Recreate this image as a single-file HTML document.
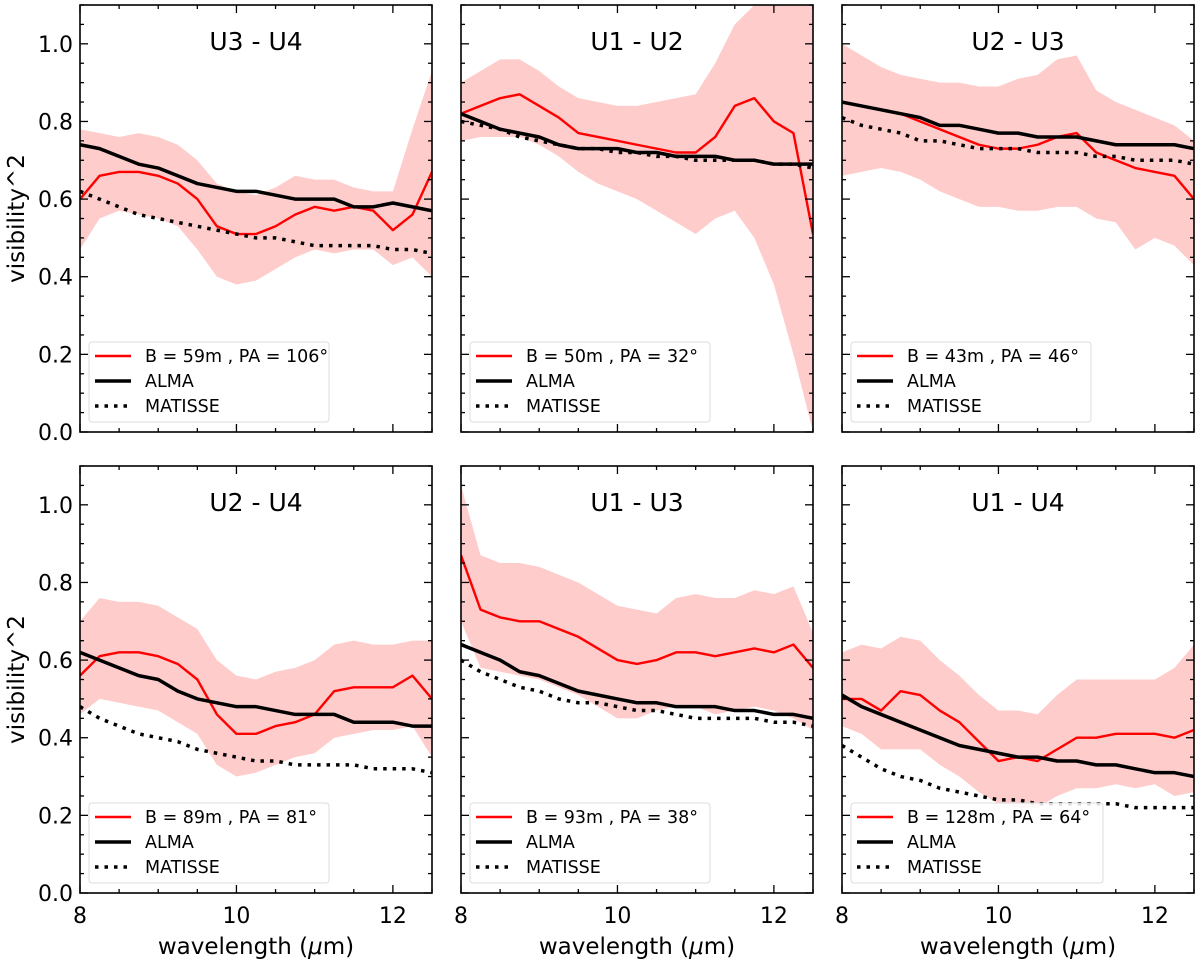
<!DOCTYPE html>
<html><head><meta charset="utf-8"><style>
body{margin:0;background:#fff}
svg{display:block;font-family:"DejaVu Sans","Liberation Sans",sans-serif}
</style></head><body>
<svg id="fig" width="1200" height="960"></svg>
<script>
const xs=[8,8.25,8.5,8.75,9,9.25,9.5,9.75,10,10.25,10.5,10.75,11,11.25,11.5,11.75,12,12.25,12.5];
const titles=["U3 - U4","U1 - U2","U2 - U3","U2 - U4","U1 - U3","U1 - U4"];
const legendLabels=["B = 59m , PA = 106°","B = 50m , PA = 32°","B = 43m , PA = 46°","B = 89m , PA = 81°","B = 93m , PA = 38°","B = 128m , PA = 64°"];
const yTicks=[0,0.2,0.4,0.6,0.8,1.0];
const xTicks=[8,10,12];
const red1=[0.60,0.66,0.67,0.67,0.66,0.64,0.60,0.53,0.51,0.51,0.53,0.56,0.58,0.57,0.58,0.57,0.52,0.56,0.67];
const up1=[0.78,0.77,0.76,0.77,0.76,0.74,0.70,0.64,0.62,0.61,0.63,0.66,0.65,0.65,0.63,0.62,0.62,0.78,0.93];
const lo1=[0.47,0.55,0.57,0.56,0.55,0.53,0.47,0.40,0.38,0.39,0.42,0.45,0.47,0.46,0.47,0.47,0.43,0.45,0.40];
const alma1=[0.74,0.73,0.71,0.69,0.68,0.66,0.64,0.63,0.62,0.62,0.61,0.60,0.60,0.60,0.58,0.58,0.59,0.58,0.57];
const mat1=[0.62,0.60,0.58,0.56,0.55,0.54,0.53,0.52,0.51,0.50,0.50,0.49,0.48,0.48,0.48,0.48,0.47,0.47,0.46];
const red2=[0.82,0.84,0.86,0.87,0.84,0.81,0.77,0.76,0.75,0.74,0.73,0.72,0.72,0.76,0.84,0.86,0.80,0.77,0.51];
const up2=[0.90,0.93,0.96,0.96,0.93,0.89,0.86,0.85,0.84,0.84,0.85,0.86,0.87,0.95,1.05,1.1,1.1,1.1,1.1];
const lo2=[0.75,0.76,0.76,0.76,0.74,0.71,0.67,0.64,0.62,0.60,0.57,0.54,0.51,0.55,0.57,0.50,0.38,0.20,0.0];
const alma2=[0.82,0.80,0.78,0.77,0.76,0.74,0.73,0.73,0.73,0.72,0.72,0.71,0.71,0.71,0.70,0.70,0.69,0.69,0.69];
const mat2=[0.80,0.79,0.78,0.76,0.75,0.74,0.73,0.73,0.72,0.72,0.71,0.71,0.70,0.70,0.70,0.70,0.69,0.69,0.68];
const red3=[0.85,0.84,0.83,0.82,0.80,0.78,0.76,0.74,0.73,0.73,0.74,0.76,0.77,0.72,0.70,0.68,0.67,0.66,0.60];
const up3=[1.0,0.97,0.94,0.92,0.91,0.90,0.90,0.89,0.89,0.91,0.92,0.96,0.97,0.88,0.85,0.83,0.81,0.79,0.75];
const lo3=[0.66,0.67,0.68,0.67,0.65,0.62,0.60,0.58,0.58,0.57,0.57,0.58,0.58,0.55,0.54,0.47,0.50,0.48,0.43];
const alma3=[0.85,0.84,0.83,0.82,0.81,0.79,0.79,0.78,0.77,0.77,0.76,0.76,0.76,0.75,0.74,0.74,0.74,0.74,0.73];
const mat3=[0.81,0.79,0.78,0.77,0.75,0.75,0.74,0.73,0.73,0.73,0.72,0.72,0.72,0.71,0.71,0.70,0.70,0.70,0.69];
const red4=[0.56,0.61,0.62,0.62,0.61,0.59,0.55,0.46,0.41,0.41,0.43,0.44,0.46,0.52,0.53,0.53,0.53,0.56,0.50];
const up4=[0.70,0.76,0.75,0.75,0.74,0.71,0.68,0.60,0.56,0.55,0.57,0.58,0.60,0.64,0.65,0.64,0.64,0.65,0.65];
const lo4=[0.46,0.50,0.49,0.48,0.47,0.44,0.41,0.33,0.30,0.31,0.33,0.35,0.36,0.40,0.41,0.42,0.42,0.43,0.35];
const alma4=[0.62,0.60,0.58,0.56,0.55,0.52,0.50,0.49,0.48,0.48,0.47,0.46,0.46,0.46,0.44,0.44,0.44,0.43,0.43];
const mat4=[0.48,0.45,0.43,0.41,0.40,0.39,0.37,0.36,0.35,0.34,0.34,0.33,0.33,0.33,0.33,0.32,0.32,0.32,0.31];
const red5=[0.87,0.73,0.71,0.70,0.70,0.68,0.66,0.63,0.60,0.59,0.60,0.62,0.62,0.61,0.62,0.63,0.62,0.64,0.58];
const up5=[1.05,0.87,0.85,0.85,0.84,0.82,0.80,0.77,0.74,0.73,0.72,0.76,0.77,0.76,0.76,0.78,0.77,0.79,0.67];
const lo5=[0.70,0.58,0.57,0.56,0.55,0.53,0.51,0.48,0.45,0.45,0.47,0.48,0.48,0.46,0.47,0.48,0.47,0.45,0.42];
const alma5=[0.64,0.62,0.60,0.57,0.56,0.54,0.52,0.51,0.50,0.49,0.49,0.48,0.48,0.48,0.47,0.47,0.46,0.46,0.45];
const mat5=[0.60,0.57,0.55,0.53,0.52,0.50,0.49,0.49,0.48,0.47,0.47,0.46,0.45,0.45,0.45,0.45,0.44,0.44,0.43];
const red6=[0.50,0.50,0.47,0.52,0.51,0.47,0.44,0.39,0.34,0.35,0.34,0.37,0.40,0.40,0.41,0.41,0.41,0.40,0.42];
const up6=[0.62,0.64,0.63,0.66,0.65,0.60,0.56,0.51,0.47,0.47,0.46,0.51,0.55,0.55,0.55,0.55,0.55,0.58,0.64];
const lo6=[0.43,0.41,0.37,0.37,0.37,0.33,0.30,0.26,0.23,0.22,0.22,0.25,0.27,0.27,0.28,0.27,0.28,0.25,0.26];
const alma6=[0.51,0.48,0.46,0.44,0.42,0.40,0.38,0.37,0.36,0.35,0.35,0.34,0.34,0.33,0.33,0.32,0.31,0.31,0.30];
const mat6=[0.38,0.35,0.32,0.30,0.29,0.27,0.26,0.25,0.24,0.24,0.23,0.23,0.23,0.23,0.23,0.22,0.22,0.22,0.22];
const reds=[red1,red2,red3,red4,red5,red6],ups=[up1,up2,up3,up4,up5,up6],los=[lo1,lo2,lo3,lo4,lo5,lo6],almas=[alma1,alma2,alma3,alma4,alma5,alma6],mats=[mat1,mat2,mat3,mat4,mat5,mat6];

const NS="http://www.w3.org/2000/svg",svg=document.getElementById('fig');
function mk(t,a,p){const e=document.createElementNS(NS,t);for(const k in a)e.setAttribute(k,a[k]);(p||svg).appendChild(e);return e;}
const lefts=[80,461,842],tops=[5,466],W=352,H=427;
for(let i=0;i<6;i++){
  const L=lefts[i%3],T=tops[Math.floor(i/3)],B=T+H,R=L+W;
  const X=v=>L+(v-8)/4.5*W, Y=v=>B-Math.max(0,Math.min(1.1,v))/1.1*H;
  const g=mk('g',{});
  
  
  const cid='c'+i;const cp=mk('clipPath',{id:cid},g);mk('rect',{x:L,y:T,width:W,height:H},cp);
  const pg=mk('g',{'clip-path':'url(#'+cid+')'},g);
  let d='M'+xs.map((x,k)=>X(x)+','+Y(ups[i][k])).join('L');
  for(let k=xs.length-1;k>=0;k--)d+='L'+X(xs[k])+','+Y(los[i][k]);
  const band=mk('path',{d:d+'Z',fill:'#ffcccc'},pg);
  
  
  const line=(arr,st)=>mk('polyline',Object.assign({points:xs.map((x,k)=>X(x)+','+Y(arr[k])).join(' '),fill:'none','stroke-linejoin':'round'},st),pg);
  const r=line(reds[i],{stroke:'#ff0000','stroke-width':2.4});
  
  
  const m=line(mats[i],{stroke:'#000','stroke-width':3.5,'stroke-dasharray':'3.5,6'});
  
  
  const a=line(almas[i],{stroke:'#000','stroke-width':3.5});
  
  
  for(let v=0;v<=1.1001;v+=0.05){const y=Y(v),len=(Math.abs(v*5-Math.round(v*5))<1e-6)?8:4;
    mk('line',{x1:L,x2:L+len,y1:y,y2:y,stroke:'#000','stroke-width':1.3},g);mk('line',{x1:R,x2:R-len,y1:y,y2:y,stroke:'#000','stroke-width':1.3},g);}
  for(let v=8;v<=12.5001;v+=0.5){const x=X(v),len=(Math.abs(v-Math.round(v/2)*2)<1e-6)?8:4;
    mk('line',{x1:x,x2:x,y1:B,y2:B-len,stroke:'#000','stroke-width':1.3},g);mk('line',{x1:x,x2:x,y1:T,y2:T+len,stroke:'#000','stroke-width':1.3},g);}
  mk('rect',{x:L,y:T,width:W,height:H,fill:'none',stroke:'#000','stroke-width':1.6},g);
  if(i%3==0){yTicks.forEach(v=>{const t=mk('text',{x:L-7,y:Y(v)+8,'text-anchor':'end','font-size':22},g);t.textContent=v.toFixed(1);
    });
    const yl=mk('text',{x:0,y:0,transform:'translate('+24+','+(T+H/2)+') rotate(-90)','text-anchor':'middle','font-size':23},g);yl.textContent='visibility^2';
    }
  if(i>=3){xTicks.forEach(v=>{const t=mk('text',{x:X(v),y:B+30,'text-anchor':'middle','font-size':22},g);t.textContent=v;
    });
    const xl=mk('text',{x:L+W/2,y:B+61,'text-anchor':'middle','font-size':23},g);xl.innerHTML='wavelength (<tspan font-style="italic">μ</tspan>m)';
    }
  const tt=mk('text',{x:L+W/2,y:T+45,'text-anchor':'middle','font-size':25},g);tt.textContent=titles[i];
  
  const lg=mk('g',{},g);
  
  
  const lx=L+9,ly=B-90;
  mk('rect',{x:lx,y:ly,width:i==5?252:240,height:80,rx:3,fill:'#fff','fill-opacity':0.85,stroke:'#ddd','stroke-width':1},lg);
  mk('line',{x1:lx+6,x2:lx+42,y1:ly+14,y2:ly+14,stroke:'#ff0000','stroke-width':2.4},lg);
  mk('line',{x1:lx+6,x2:lx+42,y1:ly+39,y2:ly+39,stroke:'#000','stroke-width':3.5},lg);
  mk('line',{x1:lx+6,x2:lx+42,y1:ly+64,y2:ly+64,stroke:'#000','stroke-width':3.5,'stroke-dasharray':'3.5,6'},lg);
  [legendLabels[i],'ALMA','MATISSE'].forEach((s,k)=>{const t=mk('text',{x:lx+56,y:ly+20+25*k,'font-size':17.5},lg);t.textContent=s;
    });
}
</script>
</body></html>
